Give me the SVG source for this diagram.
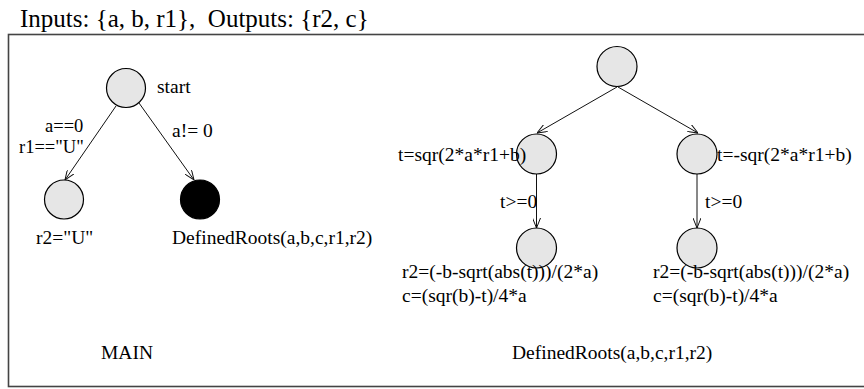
<svg xmlns="http://www.w3.org/2000/svg" width="864" height="389" viewBox="0 0 864 389">
  <style>
    text { font-family: "Liberation Serif", "Times New Roman", serif; font-size: 19.5px; fill: #000; }
    .title { font-size: 25px; }
    .guard { font-size: 18.5px; }
    .state { fill: #e6e6e6; stroke: #000; stroke-width: 1.2; }
    .final { fill: #000; stroke: #000; stroke-width: 1.2; }
    .edge { fill: none; stroke: #111; stroke-width: 1; marker-end: url(#arrow); }
    .frame { fill: none; stroke: #444; stroke-width: 1.6; }
  </style>
  <defs>
    <marker id="arrow" viewBox="0 0 10 8" refX="10" refY="4" markerWidth="10" markerHeight="8" markerUnits="userSpaceOnUse" orient="auto">
      <path d="M0,0 L10,4 L0,8" fill="none" stroke="#111" stroke-width="1"/>
    </marker>
  </defs>

  <rect width="864" height="389" fill="#fff"/>

  <text class="title" x="20" y="27" xml:space="preserve">Inputs: {a, b, r1},  Outputs: {r2, c}</text>
  <rect class="frame" x="8.5" y="34.5" width="870" height="352"/>

  <!-- connectors -->
  <g id="connectors">
    <line class="edge" x1="116" y1="106" x2="65" y2="180"/>
    <line class="edge" x1="139" y1="103" x2="194" y2="180"/>
    <line class="edge" x1="617" y1="87" x2="537" y2="133"/>
    <line class="edge" x1="618" y1="87" x2="698" y2="133"/>
    <line class="edge" x1="536.5" y1="174" x2="536.5" y2="228"/>
    <line class="edge" x1="697" y1="174" x2="697" y2="228"/>
  </g>

  <!-- MAIN machine -->
  <g id="start">
    <circle class="state" cx="126" cy="88" r="19.5"/>
    <text x="157" y="93">start</text>
  </g>
  <g id="undefined">
    <circle class="state" cx="64" cy="199.5" r="19.5"/>
    <text x="36" y="244">r2="U"</text>
  </g>
  <g id="defined-call">
    <circle class="final" cx="200" cy="199.5" r="19.5"/>
    <text x="172" y="244">DefinedRoots(a,b,c,r1,r2)</text>
  </g>
  <g id="edge-labels-main">
    <text class="guard" x="45" y="132">a==0</text>
    <text class="guard" x="19" y="153">r1=="U"</text>
    <text x="172" y="137">a!= 0</text>
  </g>
  <text x="101" y="359">MAIN</text>

  <!-- DefinedRoots machine -->
  <g id="dr-start">
    <circle class="state" cx="617" cy="66.5" r="20"/>
  </g>
  <g id="dr-plus">
    <circle class="state" cx="536.5" cy="154" r="20"/>
    <text x="398" y="161">t=sqr(2*a*r1+b)</text>
  </g>
  <g id="dr-minus">
    <circle class="state" cx="697" cy="154" r="20"/>
    <text x="717" y="161">t=-sqr(2*a*r1+b)</text>
  </g>
  <g id="dr-plus-end">
    <circle class="state" cx="536.5" cy="248" r="20"/>
    <text x="402" y="278">r2=(-b-sqrt(abs(t)))/(2*a)</text>
    <text x="402" y="302">c=(sqr(b)-t)/4*a</text>
  </g>
  <g id="dr-minus-end">
    <circle class="state" cx="697" cy="248" r="20"/>
    <text x="653" y="278">r2=(-b-sqrt(abs(t)))/(2*a)</text>
    <text x="653" y="302">c=(sqr(b)-t)/4*a</text>
  </g>
  <g id="edge-labels-dr">
    <text x="500" y="208">t&gt;=0</text>
    <text x="705" y="208">t&gt;=0</text>
  </g>
  <text x="512" y="359">DefinedRoots(a,b,c,r1,r2)</text>
</svg>
